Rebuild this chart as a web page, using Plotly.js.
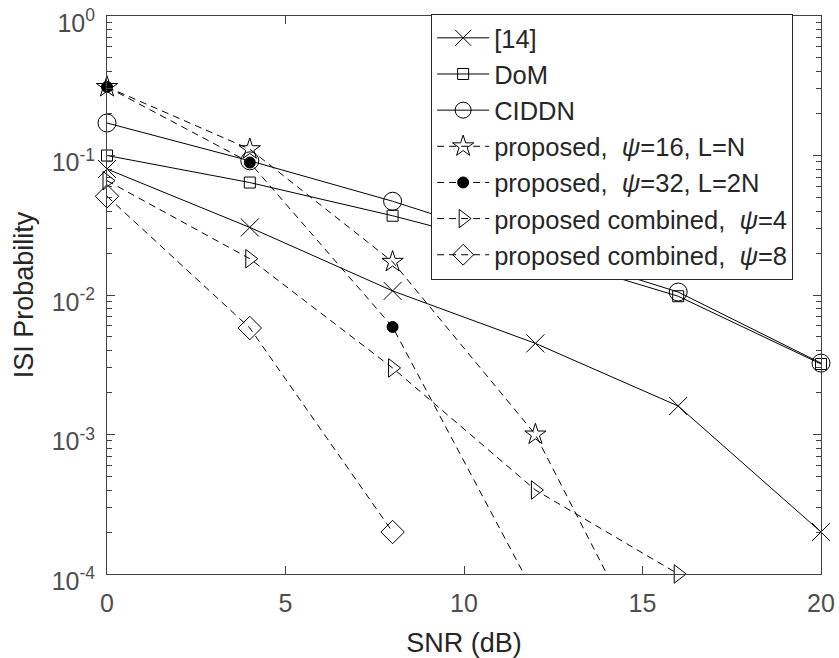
<!DOCTYPE html>
<html>
<head>
<meta charset="utf-8">
<script src="https://cdn.plot.ly/plotly-3.0.1.min.js"></script>
<style>
  html, body { margin: 0; padding: 0; background: #fff; }
  #chart { width: 839px; height: 658px; }
</style>
</head>
<body>
<div id="chart"></div>
<script>
// SNR grid (dB)
const snrFull = [0, 4, 8, 12, 16, 20];
const snrProp16 = [0, 4, 8, 12, 16];
const snrProp32 = [0, 4, 8, 12];
const snrComb4 = [0, 4, 8, 12, 16];
const snrComb8 = [0, 4, 8];

// ISI probability per scheme
const ref14 = [0.08, 0.0305, 0.0107, 0.0045, 0.0016, 0.0002];
const dom = [0.1, 0.064, 0.037, 0.02, 0.0098, 0.0032];
const ciddn = [0.171, 0.0916, 0.047, 0.022, 0.0105, 0.00325];
const prop16 = [0.31, 0.111, 0.0173, 0.001, 0.00001];
const prop32 = [0.31, 0.089, 0.0059, 0.00007];
const comb4 = [0.066, 0.0182, 0.003, 0.0004, 0.0001];
const comb8 = [0.051, 0.0058, 0.0002];

// legend labels
const names = [
  '[14]',
  'DoM',
  'CIDDN',
  'proposed,  <i>ψ</i>=16, L=N',
  'proposed,  <i>ψ</i>=32, L=2N',
  'proposed combined,  <i>ψ</i>=4',
  'proposed combined,  <i>ψ</i>=8'
];

// axis ticks
const xTicks = [0, 5, 10, 15, 20];
const yTickVals = [1e-4, 1e-3, 1e-2, 1e-1, 1];
const yTickText = ['10<sup>-4</sup>', '10<sup>-3</sup>', '10<sup>-2</sup>', '10<sup>-1</sup>', '10<sup>0</sup>'];

// minor log ticks: 2..9 within each decade
const yMinorVals = [];
for (let e = -4; e < 0; e++) {
  for (let d = 2; d <= 9; d++) yMinorVals.push(d * Math.pow(10, e));
}

const INK = '#000000';
const AX = '#404040';
const FONT = 'Liberation Sans, Arial, Helvetica, sans-serif';
const DASH = '7px,5px';

function series(x, y, name, symbol, size, dash) {
  return {
    x: x, y: y, name: name,
    type: 'scatter', mode: 'lines+markers',
    cliponaxis: false,
    line: { color: INK, width: 1, dash: dash },
    marker: {
      symbol: symbol, size: size,
      color: INK,
      line: { color: INK, width: 1 }
    }
  };
}

const traces = [
  series(snrFull, ref14, names[0], 'x-thin-open', 18, 'solid'),
  series(snrFull, dom, names[1], 'square-open', 11, 'solid'),
  series(snrFull, ciddn, names[2], 'circle-open', 18, 'solid'),
  series(snrProp16, prop16, names[3], 'star-open', 16, DASH),
  series(snrProp32, prop32, names[4], 'circle', 11, DASH),
  series(snrComb4, comb4, names[5], 'triangle-right-open', 16, DASH),
  series(snrComb8, comb8, names[6], 'diamond-open', 18, DASH)
];

const layout = {
  width: 839, height: 658,
  margin: { l: 107, r: 18, t: 16, b: 84 },
  paper_bgcolor: '#ffffff', plot_bgcolor: '#ffffff',
  font: { family: FONT, size: 25, color: '#262626' },
  showlegend: true,
  legend: {
    x: 0.454, y: 1.004, xanchor: 'left', yanchor: 'top',
    bgcolor: '#ffffff', bordercolor: '#262626', borderwidth: 1,
    font: { family: FONT, size: 25.5, color: '#262626' },
    itemwidth: 52,
    tracegroupgap: 0
  },
  xaxis: {
    range: [0, 20],
    tickvals: xTicks,
    ticks: 'inside', ticklen: 8, tickwidth: 1, tickcolor: AX,
    showline: true, linecolor: AX, linewidth: 1, mirror: 'ticks',
    showgrid: false, zeroline: false,
    tickfont: { family: FONT, size: 25, color: '#4d4d4d' },
    ticklabelstandoff: 7,
    ticklabeloverflow: 'allow',
    title: { text: 'SNR (dB)', font: { family: FONT, size: 27, color: '#262626' }, standoff: 18 }
  },
  yaxis: {
    type: 'log', range: [-4, 0],
    tickvals: yTickVals, ticktext: yTickText,
    ticks: 'inside', ticklen: 8, tickwidth: 1, tickcolor: AX,
    minor: { tickmode: 'array', tickvals: yMinorVals, ticks: 'inside', ticklen: 5, tickwidth: 1, tickcolor: AX, showgrid: false },
    showline: true, linecolor: AX, linewidth: 1, mirror: 'ticks',
    showgrid: false, zeroline: false,
    tickfont: { family: FONT, size: 25, color: '#4d4d4d' },
    ticklabelstandoff: 6,
    ticklabelshift: 7,
    ticklabeloverflow: 'allow',
    title: { text: 'ISI Probability', font: { family: FONT, size: 27, color: '#262626' }, standoff: 10 }
  }
};

Plotly.newPlot('chart', traces, layout, { displayModeBar: false, staticPlot: true });
</script>
</body>
</html>
